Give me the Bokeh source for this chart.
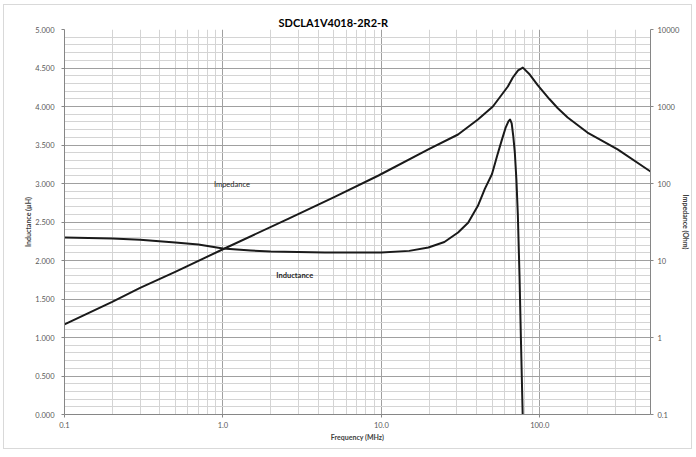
from bokeh.plotting import figure
from bokeh.models import (Range1d, LogScale, LogAxis, FixedTicker,
                          SingleIntervalTicker, PrintfTickFormatter,
                          CustomJSTickFormatter, Label)
from bokeh.embed import file_html
from bokeh.resources import INLINE

# ---- data ----
title_text = "SDCLA1V4018-2R2-R"

imp_freq = [0.1, 0.2, 0.3, 0.5, 1.0, 2.6, 5.0, 9.6, 19.8, 30.5, 40.7, 50.6,
            62.9, 67.6, 73.0, 78.2, 86.5, 97.0, 115.0, 130.0, 150.0, 200.0,
            310.0, 500.0]
imp_ohm = [1.48, 2.9, 4.4, 7.1, 14.0, 35.0, 66.0, 127.0, 277.0, 433.0,
           678.0, 1000.0, 1820.0, 2380.0, 2950.0, 3200.0, 2600.0, 1900.0,
           1250.0, 950.0, 719.0, 459.0, 277.0, 143.0]

ind_freq = [0.1, 0.2, 0.3, 0.5, 0.7, 1.0, 1.5, 2.0, 4.4, 10.0, 15.0, 19.8,
            25.0, 30.5, 35.3, 40.7, 45.0, 49.9, 54.0, 57.7, 61.0, 63.5, 65.0,
            66.5, 68.0, 69.6, 71.2, 72.7, 74.5, 76.0, 78.0, 79.0]
ind_uh = [2.30, 2.286, 2.27, 2.234, 2.208, 2.156, 2.13, 2.117, 2.104, 2.104,
          2.125, 2.169, 2.24, 2.364, 2.49, 2.71, 2.93, 3.12, 3.37, 3.57,
          3.73, 3.81, 3.83, 3.78, 3.62, 3.40, 3.05, 2.60, 1.80, 1.00, 0.0,
          -0.6]

x_major = [0.1, 1.0, 10.0, 100.0]
x_minor = [0.2, 0.3, 0.4, 0.5, 0.6, 0.7, 0.8, 0.9,
           2, 3, 4, 5, 6, 7, 8, 9,
           20, 30, 40, 50, 60, 70, 80, 90,
           200, 300, 400, 500]
imp_ticks = [0.1, 1, 10, 100, 1000, 10000]

FONT = "Lato"
TICK_COLOR = "#595959"

p = figure(width=689, height=445, x_axis_type="log",
           x_range=Range1d(0.1, 500), y_range=Range1d(0, 5),
           output_backend="svg", toolbar_location=None,
           min_border_left=60, min_border_right=41, min_border_top=24,
           min_border_bottom=36,
           styles={"border": "1px solid #d9d9d9",
                   "margin-left": "3px", "margin-top": "4px"})
p.outline_line_color = None
p.background_fill_color = "white"
p.border_fill_color = "white"

# title
p.title.text = title_text
p.title.text_font = FONT
p.title.text_font_size = "11px"
p.title.text_font_style = "bold"
p.title.text_color = "#000000"
p.title.align = "left"
p.title.offset = 214
p.title.standoff = 2

p.extra_y_ranges = {"imp": Range1d(0.1, 10000)}
p.extra_y_scales = {"imp": LogScale()}

# x axis
xa = p.xaxis[0]
xa.ticker = FixedTicker(ticks=x_major, minor_ticks=x_minor)
xa.formatter = PrintfTickFormatter(format="%.1f")
xa.axis_label = "Frequency (MHz)"

# left axis
ya = p.yaxis[0]
ya.ticker = SingleIntervalTicker(interval=0.5, num_minor_ticks=5)
ya.formatter = PrintfTickFormatter(format="%.3f")
ya.axis_label = "Inductance (µH)"

# right axis
ra = LogAxis(y_range_name="imp",
             ticker=FixedTicker(ticks=imp_ticks),
             formatter=CustomJSTickFormatter(code="return tick.toString();"),
             axis_label="Impedance (Ohm)")
p.add_layout(ra, "right")

for ax in (xa, ya, ra):
    ax.axis_line_color = "#868686"
    ax.major_tick_line_color = "#868686"
    ax.major_tick_out = 3
    ax.major_tick_in = 0
    ax.minor_tick_line_color = None
    ax.major_label_text_font = FONT
    ax.major_label_text_font_size = "7.5px"
    ax.major_label_text_color = TICK_COLOR
    ax.axis_label_text_font = FONT
    ax.axis_label_text_font_size = "7px"
    ax.axis_label_text_font_style = "bold"
    ax.axis_label_text_color = "#404040"
    ax.major_label_standoff = 6
    ax.axis_label_standoff = 0

xa.major_label_standoff = 3
xa.axis_label_standoff = 2
ra.major_label_standoff = 4

# grids
p.xgrid.grid_line_color = "#a0a0a0"
p.xgrid.minor_grid_line_color = "#d4d4d4"
p.ygrid.grid_line_color = "#a0a0a0"
p.ygrid.minor_grid_line_color = "#d4d4d4"

# curves
p.line(imp_freq, imp_ohm, y_range_name="imp", line_color="#1a1a1a",
       line_width=2, line_join="round")
p.line(ind_freq, ind_uh, line_color="#1a1a1a", line_width=2,
       line_join="round")

# curve labels
p.add_layout(Label(x=1.14, y=2.99, text="Impedance", text_font=FONT,
                   text_font_size="7.5px", text_color="#262626",
                   text_align="center", text_baseline="middle"))
p.add_layout(Label(x=2.84, y=1.805, text="Inductance", text_font=FONT,
                   text_font_size="7.5px", text_color="#262626",
                   text_font_style="bold",
                   text_align="center", text_baseline="middle"))

open("out.html", "w").write(file_html(p, INLINE))
